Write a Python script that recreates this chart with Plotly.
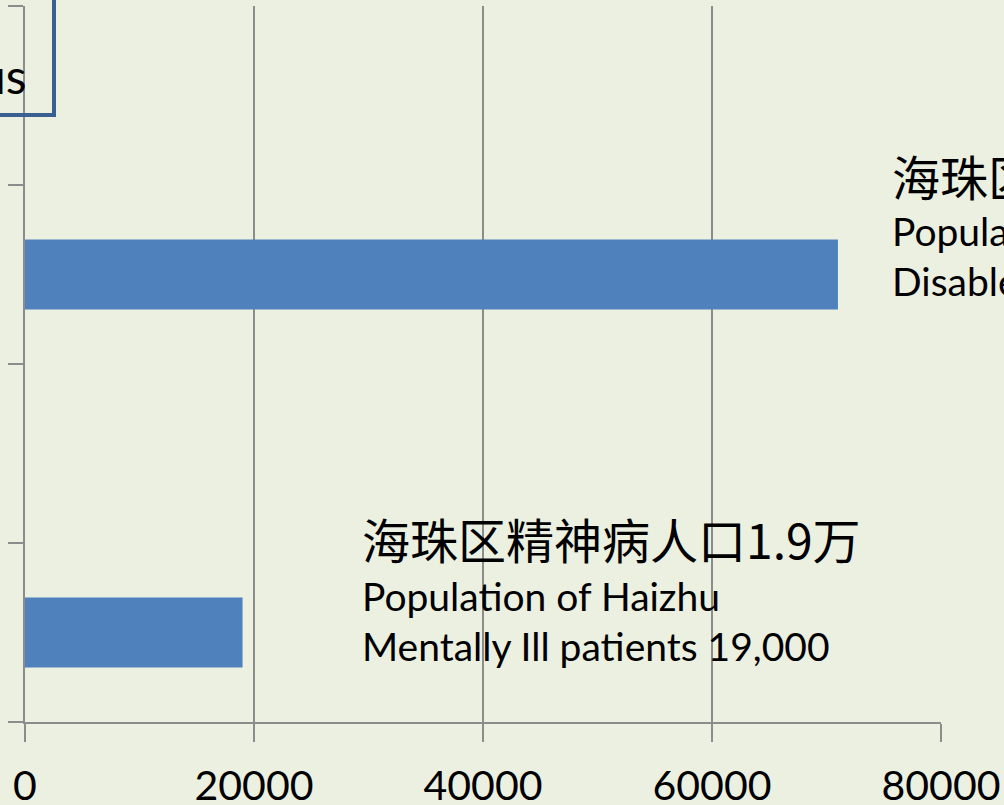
import plotly.graph_objects as go

# Data (bottom to top)
categories = ["精神病人口", "空", "残疾人口", "顶部"]
values = [19000, None, 71000, None]
x_ticks = [0, 20000, 40000, 60000, 80000]

label_mental = ["海珠区精神病人口1.9万", "Population of Haizhu", "Mentally Ill patients 19,000"]
label_disabled = ["海珠区残疾人口7.1万", "Population of Haizhu", "Disabled persons 71,000"]
box_text = "us"

BG = "#EBF0E0"
GRID = "#8C8C8C"
BAR = "#4F81BD"
LATIN = "Lato, 'Open Sans', sans-serif"
CJK = "'Noto Sans CJK SC', sans-serif"

fig = go.Figure()
fig.add_trace(go.Bar(
    x=values, y=categories, orientation="h",
    marker=dict(color=BAR, line=dict(width=0)),
    width=0.39, showlegend=False, hoverinfo="x",
))

W, H = 1004, 805
ml, mr, mt, mb = 25, 63, 6, 83
PW = W - ml - mr   # 916
PH = H - mt - mb   # 716

fig.update_layout(
    width=W, height=H,
    margin=dict(l=ml, r=mr, t=mt, b=mb, pad=0, autoexpand=False),
    paper_bgcolor=BG, plot_bgcolor=BG,
    showlegend=False,
)
fig.update_xaxes(
    range=[0, 80000], tickmode="array", tickvals=x_ticks,
    ticktext=[str(v) for v in x_ticks],
    showgrid=True, gridcolor=GRID, gridwidth=2,
    showline=True, linecolor=GRID, linewidth=2,
    ticks="outside", ticklen=18, tickwidth=2, tickcolor=GRID,
    ticklabelstandoff=9, automargin=False,
    tickfont=dict(family=LATIN, size=41, color="#000000"),
    zeroline=False, fixedrange=True,
)
fig.update_yaxes(
    type="category", categoryorder="array", categoryarray=categories,
    range=[-0.5, 3.5], tickson="boundaries", automargin=False,
    showticklabels=False, showgrid=False, zeroline=False,
    showline=True, linecolor=GRID, linewidth=2,
    ticks="outside", ticklen=15, tickwidth=2, tickcolor=GRID,
)

def add_label(x_val, lines, ys):
    sizes = [48, 39, 39]
    fams = [CJK, LATIN, LATIN]
    for txt, yv, s, f in zip(lines, ys, sizes, fams):
        fig.add_annotation(
            x=x_val, y=yv, xref="x", yref="y", text=txt, showarrow=False,
            xanchor="left", yanchor="middle",
            font=dict(family=f, size=s, color="#000000"),
        )

add_label(29258, label_mental, [0.530, 0.205, -0.075])
add_label(75546, label_disabled, [2.558, 2.244, 1.964])

# Partially visible text box at top-left
fig.add_shape(
    type="rect", xref="paper", yref="paper",
    x0=-0.1, x1=(54 - ml) / PW, y0=(722 - 115) / PH, y1=1.1,
    line=dict(color="#3A6091", width=4), fillcolor="rgba(0,0,0,0)", layer="above",
)
fig.add_annotation(
    x=(29 - ml) / PW, y=(722 - 76) / PH, xref="paper", yref="paper",
    text=box_text, showarrow=False, xanchor="right", yanchor="middle",
    font=dict(family=LATIN, size=48, color="#000000"),
)

fig.write_html(
    "out.html",
    config={"displayModeBar": False},
    post_script="document.body.style.margin='0';document.body.style.overflow='hidden';",
)
